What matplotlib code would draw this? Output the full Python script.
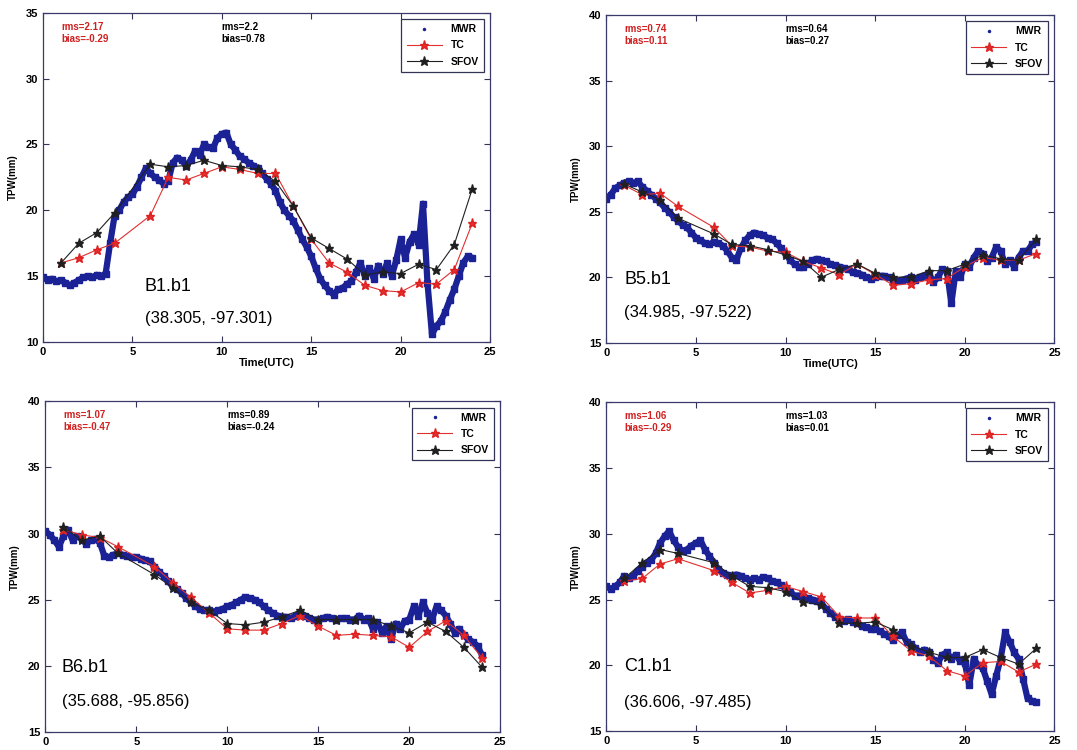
import numpy as np
import matplotlib
matplotlib.use("Agg")
import matplotlib.pyplot as plt

plt.rcParams['font.family'] = ['Liberation Sans', 'DejaVu Sans']

# MWR readings, one every 15 min from 0 to 24 UTC
mwr_b1 = [14.9, 14.7, 14.8, 14.6, 14.7, 14.5, 14.3, 14.5,
          14.7, 14.9, 15.0, 14.9, 15.1, 15.0, 15.2, 17.5,
          19.6, 20.0, 20.6, 21.0, 21.2, 21.8, 22.5, 23.2,
          22.8, 22.5, 22.3, 22.0, 22.2, 23.6, 24.0, 23.8,
          23.4, 23.8, 24.5, 24.2, 25.0, 24.8, 24.7, 25.5,
          25.8, 25.9, 25.0, 24.6, 24.1, 23.9, 23.6, 23.4,
          23.2, 22.8, 22.4, 22.0, 21.5, 20.6, 20.0, 19.6,
          19.2, 18.5, 17.8, 17.2, 16.5, 15.6, 14.8, 14.3,
          13.9, 13.6, 14.0, 14.1, 14.4, 14.6, 15.3, 16.0,
          15.0, 15.6, 14.8, 15.8, 15.2, 16.0, 15.0, 16.2,
          17.8, 16.4, 17.6, 18.2, 17.4, 20.5, 14.5, 10.6,
          11.2, 11.6, 12.3, 13.2, 14.0, 15.0, 16.0, 16.5,
          16.4]
mwr_b5 = [26.0, 26.3, 26.8, 27.0, 27.2, 27.3, 27.2, 27.3,
          26.9, 26.6, 26.3, 26.0, 25.7, 25.3, 25.0, 24.6,
          24.3, 24.0, 23.8, 23.4, 23.0, 22.8, 22.6, 22.5,
          22.7, 22.6, 22.4, 22.0, 21.5, 21.3, 22.2, 22.8,
          23.2, 23.4, 23.3, 23.2, 23.0, 22.9, 22.6, 22.2,
          21.8, 21.3, 21.0, 20.8, 20.8, 21.0, 21.3, 21.4,
          21.3, 21.2, 21.0, 20.9, 20.8, 20.7, 20.6, 20.4,
          20.3, 20.2, 20.0, 19.9, 20.0, 20.1, 20.1, 20.0,
          19.8, 19.7, 19.8, 19.9, 20.0, 19.8, 20.0, 20.1,
          20.3, 19.6, 20.0, 20.6, 20.5, 18.0, 20.5, 20.0,
          21.0, 20.8, 21.5, 22.0, 21.8, 21.2, 21.5, 22.3,
          22.0, 21.0, 21.3, 20.8, 21.5, 22.0, 22.0, 22.5,
          22.7]
mwr_b6 = [30.2, 29.9, 29.5, 29.0, 29.8, 30.3, 29.5, 29.8,
          29.6, 29.2, 29.5, 29.6, 29.3, 28.3, 28.2, 28.4,
          28.5, 28.4, 28.3, 28.2, 28.2, 28.1, 28.0, 27.9,
          27.5, 27.1, 26.8, 26.4, 26.0, 25.8, 25.5, 25.1,
          24.8, 24.5, 24.3, 24.2, 24.2, 24.1, 24.2, 24.3,
          24.5, 24.6, 24.8, 25.0, 25.2, 25.1, 25.0, 24.8,
          24.5, 24.2, 24.0, 23.8, 23.7, 23.7, 23.6, 23.8,
          24.0, 23.8, 23.6, 23.5, 23.5, 23.6, 23.7, 23.6,
          23.5, 23.6, 23.6, 23.5, 23.5, 23.8, 23.5, 23.6,
          22.8, 23.3, 22.5, 23.0, 22.0, 23.2, 22.8, 23.4,
          23.5, 24.5, 23.8, 24.8, 24.0, 23.5, 24.5, 24.2,
          23.8, 23.2, 22.5, 22.8, 22.3, 22.0, 21.8, 21.5,
          20.8]
mwr_c1 = [26.0, 25.8, 26.0, 26.3, 26.8, 26.6, 26.8, 27.2,
          27.5, 27.8, 28.0, 28.5, 29.3, 29.8, 30.2, 29.5,
          29.0, 28.7, 28.8, 29.1, 29.3, 29.5, 28.8, 28.3,
          27.8, 27.3, 27.0, 26.9, 26.8, 26.9, 26.8, 26.6,
          26.5, 26.6, 26.5, 26.7, 26.6, 26.4, 26.3, 26.1,
          25.8, 25.6, 25.3, 25.3, 25.2, 25.1, 25.0, 24.9,
          24.7, 24.3, 24.0, 23.7, 23.5, 23.4, 23.5, 23.3,
          23.2, 23.0, 22.9, 22.8, 22.8, 22.6, 22.4, 22.2,
          21.9, 22.3, 22.5, 21.8, 21.6, 21.3, 21.0, 21.2,
          21.0, 20.4, 20.2, 20.8, 21.0, 20.5, 20.8, 20.3,
          20.2, 18.5, 20.5, 20.0, 19.8, 18.8, 17.8, 19.2,
          20.5, 22.5, 21.8, 21.0, 20.5, 19.0, 17.5, 17.3,
          17.2]

# hourly retrievals
hours = [1, 2, 3, 4, 6, 7, 8, 9, 10, 11, 12, 13, 14, 15, 16, 17, 18, 19, 20, 21, 22, 23, 24]
tc_b1 = [16.0, 16.4, 17.0, 17.5, 19.6, 22.5, 22.3, 22.8, 23.3, 23.1, 22.8, 22.8, 20.3,
         17.8, 16.0, 15.3, 14.3, 13.9, 13.8, 14.5, 14.4, 15.5, 19.0]
sfov_b1 = [16.0, 17.5, 18.3, 19.8, 23.5, 23.3, 23.4, 23.8, 23.4, 23.3, 23.1, 22.2, 20.3,
           17.9, 17.1, 16.3, 15.1, 15.3, 15.2, 15.9, 15.5, 17.4, 21.6]
tc_b5 = [27.0, 26.3, 26.4, 25.4, 23.8, 22.4, 22.3, 22.0, 21.9, 21.2, 20.7, 20.2, 21.0,
         20.2, 19.4, 19.5, 19.8, 19.9, 20.8, 21.5, 21.3, 21.3, 21.8]
sfov_b5 = [27.1, 26.5, 25.9, 24.5, 23.3, 22.5, 22.4, 22.1, 21.7, 21.2, 20.0, 20.6, 21.0,
           20.3, 20.0, 20.0, 20.5, 20.5, 21.0, 21.7, 21.4, 21.3, 22.9]
tc_b6 = [30.3, 29.9, 29.7, 29.0, 27.5, 26.3, 25.2, 24.0, 22.8, 22.7, 22.7, 23.2, 23.8,
         23.0, 22.3, 22.4, 22.3, 22.2, 21.4, 22.6, 23.4, 22.3, 20.6]
sfov_b6 = [30.5, 29.5, 29.8, 28.5, 26.9, 25.9, 24.8, 24.2, 23.2, 23.1, 23.3, 23.7, 24.2,
           23.5, 23.5, 23.5, 23.5, 23.0, 22.5, 23.3, 22.6, 21.4, 19.9]
tc_c1 = [26.4, 26.6, 27.7, 28.1, 27.2, 26.3, 25.5, 25.7, 26.0, 25.6, 25.2, 23.7, 23.6,
         23.6, 22.2, 21.1, 20.7, 19.6, 19.2, 20.2, 20.3, 19.5, 20.1]
sfov_c1 = [26.6, 27.8, 28.8, 28.5, 27.8, 26.8, 26.0, 25.9, 25.6, 24.8, 24.6, 23.2, 23.2,
           23.3, 22.7, 21.5, 21.0, 20.6, 20.6, 21.2, 20.6, 20.1, 21.3]

stations = ["B1.b1", "B5.b1", "B6.b1", "C1.b1"]
coords = ["(38.305, -97.301)", "(34.985, -97.522)", "(35.688, -95.856)", "(36.606, -97.485)"]
rms_tc = ["2.17", "0.74", "1.07", "1.06"]
bias_tc = ["-0.29", "0.11", "-0.47", "-0.29"]
rms_sfov = ["2.2", "0.64", "0.89", "1.03"]
bias_sfov = ["0.78", "0.27", "-0.24", "0.01"]
ylims = [(10, 35), (15, 40), (15, 40), (15, 40)]

mwr_all = [mwr_b1, mwr_b5, mwr_b6, mwr_c1]
tc_all = [tc_b1, tc_b5, tc_b6, tc_c1]
sfov_all = [sfov_b1, sfov_b5, sfov_b6, sfov_c1]

positions = [[0.040, 0.544, 0.415, 0.439],
             [0.563, 0.543, 0.416, 0.437],
             [0.042, 0.024, 0.4225, 0.441],
             [0.563, 0.025, 0.416, 0.439]]
label_y = [(14.2, 11.8), (19.8, 17.3), (19.9, 17.3), (19.9, 17.2)]
label_x = [5.7, 1.0, 0.9, 1.0]

fig = plt.figure(figsize=(10.77, 7.5), dpi=100)
blue = '#1a2296'

for i in range(4):
    ax = fig.add_axes(positions[i])
    t = np.arange(len(mwr_all[i])) * 0.25
    # dense band of MWR samples
    ax.plot(t, mwr_all[i], '-', color=blue, lw=4.5, solid_capstyle='round')
    ax.plot(t, mwr_all[i], 's', color=blue, ms=4)
    tc_h, = ax.plot(hours, tc_all[i], '-*', color='#e03030', lw=0.8, ms=6.5, mec='#e02020', label='TC')
    sf_h, = ax.plot(hours, sfov_all[i], '-*', color='#202020', lw=0.8, ms=6.5, label='SFOV')

    ax.set_xlim(0, 25)
    ax.set_ylim(*ylims[i])
    ax.set_xticks(range(0, 26, 5))
    ax.set_yticks(range(ylims[i][0], ylims[i][1] + 1, 5))
    ax.tick_params(direction='in', top=True, right=True, labelsize=8, length=4, color='#333355')
    for lab in ax.get_xticklabels() + ax.get_yticklabels():
        lab.set_fontweight('bold')
    for s in ax.spines.values():
        s.set_color('#3a3a6a')
        s.set_linewidth(0.9)
    ax.set_ylabel('TPW(mm)', fontsize=7, fontweight='bold', labelpad=6)
    if i < 2:
        ax.set_xlabel('Time(UTC)', fontsize=8, fontweight='bold', labelpad=1)

    ax.text(0.04, 0.957, 'rms=' + rms_tc[i], transform=ax.transAxes, color='#d02020',
            fontsize=7, fontweight='bold', va='center')
    ax.text(0.04, 0.921, 'bias=' + bias_tc[i], transform=ax.transAxes, color='#d02020',
            fontsize=7, fontweight='bold', va='center')
    ax.text(0.40, 0.957, 'rms=' + rms_sfov[i], transform=ax.transAxes, color='black',
            fontsize=7, fontweight='bold', va='center')
    ax.text(0.40, 0.921, 'bias=' + bias_sfov[i], transform=ax.transAxes, color='black',
            fontsize=7, fontweight='bold', va='center')

    ax.text(label_x[i], label_y[i][0], stations[i], fontsize=13, va='center')
    ax.text(label_x[i], label_y[i][1], coords[i], fontsize=12, va='center')

    mwr_leg, = ax.plot([], [], '.', color=blue, ms=3)
    leg = ax.legend([mwr_leg, tc_h, sf_h], ['MWR', 'TC', 'SFOV'], loc='upper right',
                    prop={'weight': 'bold', 'size': 7.5},
                    fancybox=False, edgecolor='#333355', framealpha=1, borderaxespad=0.6,
                    handlelength=3.4, labelspacing=0.6, borderpad=0.5)
    leg.get_frame().set_linewidth(0.9)

fig.savefig('out.png', dpi=100)
